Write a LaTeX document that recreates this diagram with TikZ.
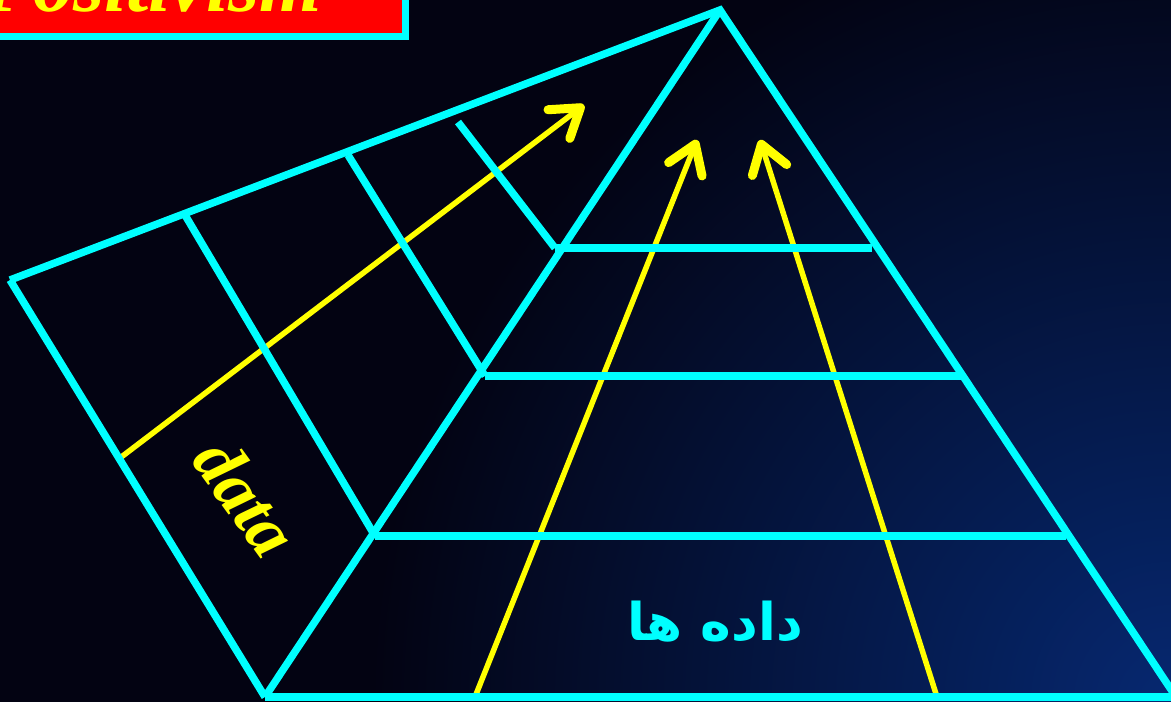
\documentclass[tikz,border=0pt]{standalone}
\usepackage{fontspec}
\usepackage{tikz}
\usetikzlibrary{arrows.meta}
\setmainfont{Liberation Serif}
\newfontfamily\arabicfont[Script=Arabic]{DejaVu Sans}
\TeXXeTstate=1

\definecolor{bgdark}{RGB}{3,3,18}
\definecolor{bgblue}{RGB}{6,40,112}
\definecolor{edgecyan}{RGB}{0,255,255}
\definecolor{arrowyellow}{RGB}{255,255,0}
\definecolor{titlered}{RGB}{255,0,0}

\tikzset{
  edge/.style={draw=edgecyan, line width=7.5pt},
  flow/.style={draw=arrowyellow, line width=5.5pt,
    -{Straight Barb[length=27pt,width=36pt,line width=9pt,round]}},
}

\begin{document}
\begin{tikzpicture}[x=1pt, y=-1pt]
  \useasboundingbox (0,0) rectangle (1171,702);
  \clip (0,0) rectangle (1171,702);
  % background
  \fill[bgdark] (0,0) rectangle (1171,702);
  \shade[inner color=bgblue, outer color=bgdark] (1171,702) circle (800);

  % title box
  \node (title) [draw=edgecyan, line width=7.5pt, fill=titlered, rectangle,
    minimum width=430pt, minimum height=90pt, anchor=south east,
    inner sep=0pt] at (409,40) {};
  \node (titletext) [anchor=base west, text=arrowyellow, inner sep=0pt,
    font=\fontsize{80}{80}\selectfont\bfseries\itshape] at (-16,11) {Positivism};

  % pyramid corners
  \coordinate (apex) at (720,10);
  \coordinate (bl) at (265,697);
  \coordinate (br) at (1176,697);
  \coordinate (pa) at (10,280);
  % level ends
  \coordinate (l1) at (555,248);
  \coordinate (r1) at (872,248);
  \coordinate (l2) at (485,376);
  \coordinate (r2) at (965,376);
  \coordinate (l3) at (375,536);
  \coordinate (r3) at (1066,536);
  % panel dividers
  \coordinate (d1) at (185,215);
  \coordinate (d2) at (348,155);
  \coordinate (d3) at (458,122);

  % yellow arrows
  \coordinate (a1s) at (120,458);
  \coordinate (a1e) at (584,105);
  \coordinate (a2s) at (475,697);
  \coordinate (a2e) at (697,140);
  \coordinate (a3s) at (937,697);
  \coordinate (a3e) at (760,140);
  \draw [flow] (a1s) -- (a1e);
  \draw [flow] (a2s) -- (a2e);
  \draw [flow] (a3s) -- (a3e);

  % cyan frame
  \draw [edge, line join=miter] (pa) -- (apex) -- (br);
  \draw [edge] (apex) -- (bl);
  \draw [edge] (pa) -- (bl);
  \draw [edge] (bl) -- (br);
  \draw [edge] (l1) -- (r1);
  \draw [edge] (l2) -- (r2);
  \draw [edge] (l3) -- (r3);
  \draw [edge] (d1) -- (l3);
  \draw [edge] (d2) -- (l2);
  \draw [edge] (d3) -- (l1);

  % labels
  \node (datalabel) [text=arrowyellow, rotate=-54,
    font=\fontsize{70}{70}\selectfont\bfseries\itshape] at (246,497) {data};
  \node (datafa) [text=edgecyan, font=\fontsize{52}{52}\selectfont\bfseries]
    at (715,622) {\arabicfont\beginR داده ها\endR};
\end{tikzpicture}
\end{document}
